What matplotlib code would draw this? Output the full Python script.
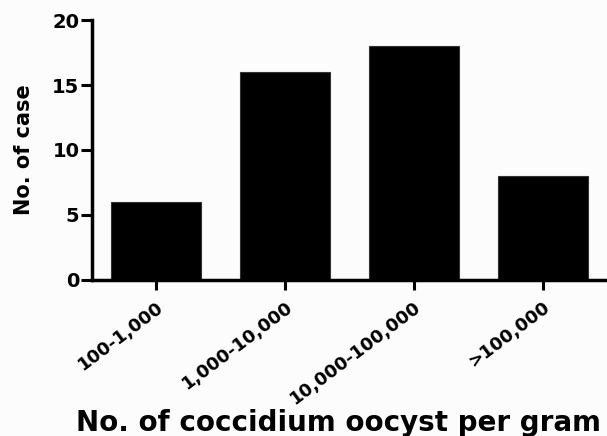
import matplotlib
matplotlib.use("Agg")
import matplotlib.pyplot as plt
import numpy as np

# data
categories = ["100-1,000", "1,000-10,000", "10,000-100,000", ">100,000"]
cases = [6, 16, 18, 8]
y_ticks = [0, 5, 10, 15, 20]

plt.rcParams["font.family"] = ["DejaVu Sans"]
plt.rcParams["font.weight"] = "bold"

fig = plt.figure(figsize=(6.07, 4.36), dpi=100)
fig.patch.set_facecolor("#fcfcfc")
ax = fig.add_axes([0.1516, 0.358, 0.8484, 0.596])
ax.set_facecolor("#fcfcfc")

x = np.arange(len(categories))
ax.bar(x, cases, width=0.7, color="black", edgecolor="#333333", linewidth=0.8)

ax.set_xlim(-0.5, 3.5)
ax.set_ylim(0, 20)
ax.set_yticks(y_ticks)
ax.set_xticks(x)
ax.set_xticklabels(categories, rotation=37, ha="right", rotation_mode="anchor",
                   fontsize=13, fontweight="bold")
ax.tick_params(axis="y", labelsize=14, width=2.2, length=8, pad=1)
ax.tick_params(axis="x", width=2.2, length=7, pad=6)
for lab in ax.get_yticklabels():
    lab.set_fontweight("bold")

for side in ["top", "right"]:
    ax.spines[side].set_visible(False)
for side in ["left", "bottom"]:
    ax.spines[side].set_linewidth(2.5)

ax.set_ylabel("No. of case", fontsize=15, fontweight="bold")
ax.yaxis.set_label_coords(-0.113, 0.5)
fig.text(0.557, 0.012, "No. of coccidium oocyst per gram", fontsize=20,
         fontweight="bold", ha="center", va="baseline")

plt.savefig("out.png", dpi=100, facecolor=fig.get_facecolor())
